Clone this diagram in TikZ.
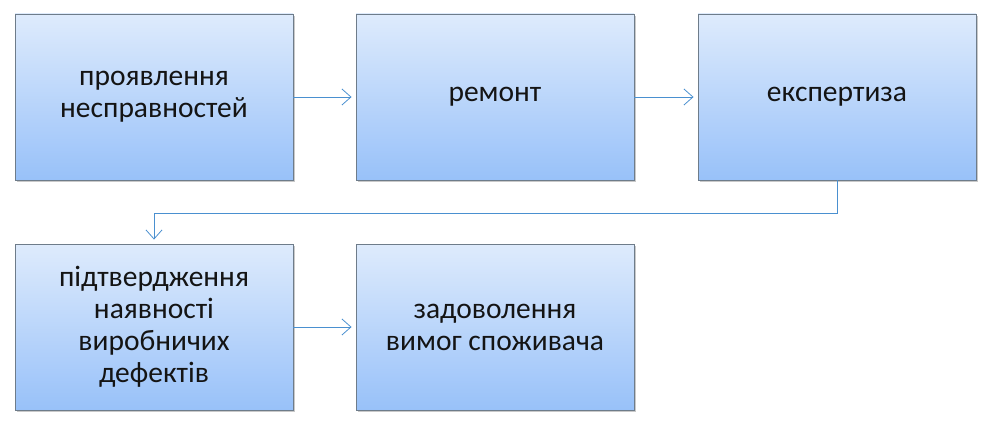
\documentclass[tikz,border=0pt]{standalone}
\usepackage{fontspec}
\setmainfont{Carlito}
\usetikzlibrary{arrows.meta,shadows,calc}
\definecolor{boxtop}{HTML}{DEEBFC}
\definecolor{boxbot}{HTML}{98C1F9}
\definecolor{boxedge}{HTML}{6E7C8A}
\definecolor{linkblue}{HTML}{4A90D0}
\definecolor{txt}{HTML}{141414}
\tikzset{
  stage/.style={draw=boxedge, line width=0.9pt, top color=boxtop, bottom color=boxbot,
    minimum width=278pt, minimum height=166pt, align=center, text=txt,
    font=\fontsize{29.5}{32}\selectfont,
    drop shadow={shadow xshift=1.5pt, shadow yshift=-2pt, opacity=0.35, fill=black!60}},
  link/.style={draw=linkblue, line width=0.8pt, -{Straight Barb[length=9pt,width=16pt]}, shorten >=4pt}
}
\begin{document}
\begin{tikzpicture}[x=1pt,y=-1pt]
\useasboundingbox[fill=white] (0,0) rectangle (999,428);
\node[stage] (b1) at (154,97) {проявлення\\несправностей};
\node[stage] (b2) at (495,97) {ремонт};
\node[stage] (b3) at (837,97) {експертиза};
\node[stage] (b4) at (154,327) {підтвердження\\наявності\\виробничих\\дефектів};
\node[stage] (b5) at (495,327) {задоволення\\вимог споживача};
\draw[link] (b1.east) -- (b2.west);
\draw[link] (b2.east) -- (b3.west);
\draw[link] (b3.south) -- ++(0,33) -| (b4.north);
\draw[link] (b4.east) -- (b5.west);
\end{tikzpicture}
\end{document}
